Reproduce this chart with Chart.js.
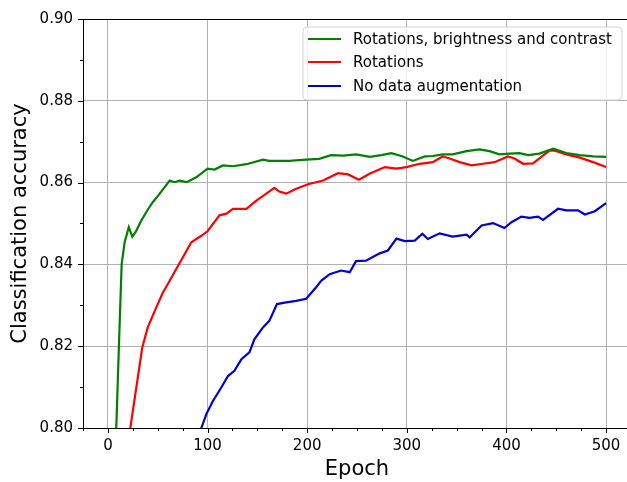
<!DOCTYPE html>
<html>
<head>
<meta charset="utf-8">
<script src="https://cdn.jsdelivr.net/npm/chart.js"></script>
<style>
  html, body { margin: 0; padding: 0; background: #fff; overflow: hidden; }
  canvas { display: block; }
</style>
</head>
<body>
<canvas id="chart" width="632" height="482"></canvas>
<script>
// values
var seriesLabels = ["Rotations, brightness and contrast", "Rotations", "No data augmentation"];

var greenEpoch = [5, 8.4, 11, 13.8, 16.8, 21, 24.5, 28, 33.5, 39, 45, 51, 57, 62, 67, 72, 79, 88.7, 100, 107, 115.5, 125.5, 139, 155.6, 162, 172, 182, 199, 212, 224, 236, 249, 263, 274.5, 284.5, 296, 306, 318, 326, 336, 346, 360, 373, 383, 393, 403, 413, 422, 433, 447, 460, 473.6, 487, 500];
var greenAcc = [0.775, 0.800, 0.8197, 0.8401, 0.8454, 0.8491, 0.8468, 0.8480, 0.8507, 0.8530, 0.8552, 0.8570, 0.8589, 0.8605, 0.8601, 0.8605, 0.8601, 0.8613, 0.8634, 0.8632, 0.8642, 0.8640, 0.8645, 0.8656, 0.8653, 0.8653, 0.8653, 0.8656, 0.8658, 0.8667, 0.8666, 0.8669, 0.8663, 0.8667, 0.8672, 0.8664, 0.8653, 0.8664, 0.8665, 0.8669, 0.8669, 0.8677, 0.8681, 0.8677, 0.8669, 0.8671, 0.8672, 0.8667, 0.8671, 0.8683, 0.8672, 0.8667, 0.8664, 0.8663];

var redEpoch = [15, 22.5, 34.5, 40, 48.6, 55, 62, 70, 77, 83.7, 93.8, 100, 112, 119, 125.5, 139, 149, 159, 167, 172, 179, 189, 201, 216, 231, 241, 252, 263, 278, 289.5, 299.6, 313, 326, 336, 343, 353, 365, 376.5, 388, 401.6, 408, 416.7, 426.7, 435, 443.5, 448.5, 460, 473.6, 487, 500];
var redAcc = [0.785, 0.800, 0.8197, 0.8246, 0.8295, 0.8330, 0.8360, 0.8395, 0.8425, 0.8454, 0.8470, 0.8481, 0.8520, 0.8524, 0.8536, 0.8536, 0.8556, 0.8573, 0.8587, 0.8578, 0.8573, 0.8585, 0.8596, 0.8605, 0.8623, 0.8620, 0.8607, 0.8622, 0.8638, 0.8634, 0.8638, 0.8646, 0.8650, 0.8664, 0.8659, 0.8650, 0.8642, 0.8646, 0.8650, 0.8664, 0.8659, 0.8646, 0.8647, 0.8663, 0.8679, 0.8678, 0.8669, 0.8661, 0.8650, 0.8638];

var blueEpoch = [80, 93.8, 98.8, 105.4, 113.8, 120.5, 127, 134, 142, 147, 155.6, 162, 169.7, 179, 189, 199, 209, 214, 222.6, 234, 242.7, 249, 259, 272.8, 281, 289.6, 298, 308, 315.6, 321, 333, 346, 360, 363, 375, 386.5, 398, 405, 415, 423, 431.7, 436.7, 451.8, 460, 471.9, 478.6, 488.7, 500];
var blueAcc = [0.790, 0.800, 0.8034, 0.8066, 0.8099, 0.8127, 0.8140, 0.8168, 0.8185, 0.8217, 0.8246, 0.8262, 0.8303, 0.8307, 0.8311, 0.8316, 0.8344, 0.8360, 0.8376, 0.8385, 0.8381, 0.8408, 0.8409, 0.8427, 0.8434, 0.8463, 0.8457, 0.8458, 0.8475, 0.8462, 0.8476, 0.8468, 0.8473, 0.8466, 0.8495, 0.8501, 0.8489, 0.8503, 0.8517, 0.8514, 0.8517, 0.8509, 0.8536, 0.8532, 0.8532, 0.8522, 0.8530, 0.8550];

var colors = ["#008000", "#ff0000", "#0000cd"];
var FONT = "'DejaVu Sans', sans-serif";

function toPoints(xs, ys) {
  return xs.map((x, i) => ({ x: x, y: ys[i] }));
}

function isMajorX(v) { return Math.round(v) % 100 === 0; }
function isMajorY(v) { return Math.round(v * 100) % 2 === 0; }

// matplotlib-like frame, ticks and legend box
var framePlugin = {
  id: "frame",
  afterDraw(chart) {
    var ctx = chart.ctx, a = chart.chartArea, sx = chart.scales.x, sy = chart.scales.y;
    ctx.save();
    ctx.strokeStyle = "#000";
    ctx.lineWidth = 1;
    ctx.strokeRect(Math.round(a.left) + 0.5, Math.round(a.top) + 0.5, Math.round(a.right - a.left), Math.round(a.bottom - a.top));

    ctx.beginPath();
    sx.ticks.forEach((t) => {
      var px = Math.round(sx.getPixelForValue(t.value)) + 0.5;
      var len = isMajorX(t.value) ? 5 : 3;
      ctx.moveTo(px, a.bottom);
      ctx.lineTo(px, a.bottom + len);
    });
    sy.ticks.forEach((t) => {
      var py = Math.round(sy.getPixelForValue(t.value)) + 0.5;
      var len = isMajorY(t.value) ? 5 : 3;
      ctx.moveTo(a.left, py);
      ctx.lineTo(a.left - len, py);
    });
    ctx.stroke();

    // legend
    var bx = 303, by = 27, bw = 319, bh = 73, r = 4;
    ctx.beginPath();
    ctx.moveTo(bx + r, by);
    ctx.arcTo(bx + bw, by, bx + bw, by + bh, r);
    ctx.arcTo(bx + bw, by + bh, bx, by + bh, r);
    ctx.arcTo(bx, by + bh, bx, by, r);
    ctx.arcTo(bx, by, bx + bw, by, r);
    ctx.closePath();
    ctx.fillStyle = "rgba(255,255,255,0.8)";
    ctx.fill();
    ctx.strokeStyle = "#d5d5d5";
    ctx.stroke();

    var rows = [39, 62, 86];
    chart.data.datasets.forEach((ds, i) => {
      ctx.strokeStyle = ds.borderColor;
      ctx.lineWidth = 2;
      ctx.beginPath();
      ctx.moveTo(308, rows[i]);
      ctx.lineTo(341, rows[i]);
      ctx.stroke();
      ctx.fillStyle = "#000";
      ctx.font = "15px " + FONT;
      ctx.textBaseline = "middle";
      ctx.fillText(ds.label, 353, rows[i] + 1);
    });
    ctx.restore();
  }
};

var data = {
  datasets: [
    { label: seriesLabels[0], data: toPoints(greenEpoch, greenAcc), borderColor: colors[0] },
    { label: seriesLabels[1], data: toPoints(redEpoch, redAcc), borderColor: colors[1] },
    { label: seriesLabels[2], data: toPoints(blueEpoch, blueAcc), borderColor: colors[2] },
  ]
};
data.datasets.forEach((ds) => {
  ds.borderWidth = 2.2;
  ds.pointRadius = 0;
  ds.tension = 0;
  ds.fill = false;
  ds.clip = 0;
});

var options = {
  responsive: false,
  animation: false,
  layout: { padding: { top: 19, right: 1, left: 0, bottom: 0 } },
  plugins: { legend: { display: false }, tooltip: { enabled: false } },
  scales: {
    x: {
      type: "linear",
      min: -25,
      max: 525,
      border: { display: false },
      grid: {
        drawTicks: false,
        lineWidth: 1,
        color: (c) => (c.tick && isMajorX(c.tick.value) ? "#b0b0b0" : "rgba(0,0,0,0)"),
      },
      ticks: {
        stepSize: 25,
        autoSkip: false,
        maxRotation: 0,
        padding: 9,
        color: "#000",
        font: { family: FONT, size: 15 },
        callback: (v) => (isMajorX(v) ? String(Math.round(v)) : ""),
      },
      title: {
        display: true,
        text: "Epoch",
        color: "#000",
        font: { family: FONT, size: 21 },
        padding: { top: 1, bottom: 0 },
      },
      afterFit: (scale) => {
        scale.height = 54;
        scale.paddingLeft = 0;
        scale.paddingRight = 0;
      },
    },
    y: {
      type: "linear",
      min: 0.8,
      max: 0.9,
      border: { display: false },
      grid: {
        drawTicks: false,
        lineWidth: 1,
        color: (c) => (c.tick && isMajorY(c.tick.value) ? "#b0b0b0" : "rgba(0,0,0,0)"),
      },
      ticks: {
        stepSize: 0.01,
        autoSkip: false,
        padding: 10,
        color: "#000",
        font: { family: FONT, size: 15 },
        callback: (v) => (isMajorY(v) ? v.toFixed(2) : ""),
      },
      title: {
        display: true,
        text: "Classification accuracy",
        color: "#000",
        font: { family: FONT, size: 21 },
        padding: { top: 8, bottom: 0 },
      },
      afterFit: (scale) => { scale.width = 83; },
    },
  },
};

var chart = new Chart(document.getElementById("chart"), {
  type: "line",
  data: data,
  options: options,
  plugins: [framePlugin],
});
</script>
</body>
</html>
